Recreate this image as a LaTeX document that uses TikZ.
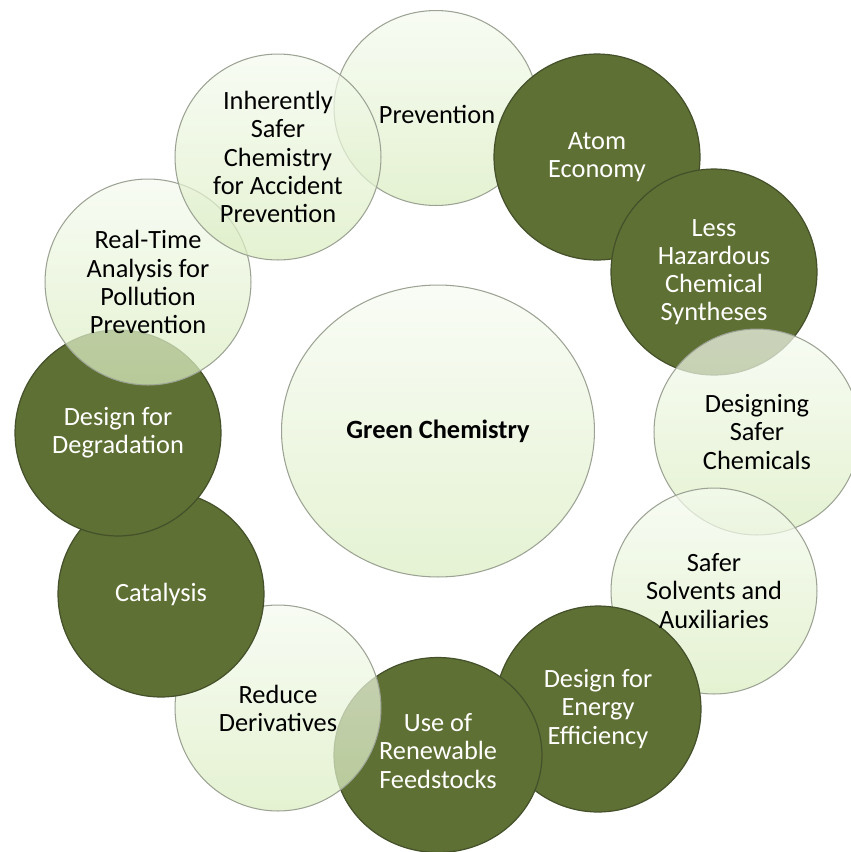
\documentclass[tikz,border=0pt]{standalone}
\usepackage{fontspec}
\setmainfont{Carlito}
\usetikzlibrary{shapes.geometric}
\definecolor{leafdark}{HTML}{5F7034}
\definecolor{leafrim}{HTML}{44512A}
\definecolor{leaftop}{HTML}{F5FAEF}
\definecolor{leafbot}{HTML}{DAEDC0}
\definecolor{leafline}{HTML}{9CA394}
\begin{document}
\begin{tikzpicture}
\newcommand{\xunit}{0.02}
\newcommand{\yunit}{-0.02}
\tikzstyle{bubble}=[circle,minimum size=4.12cm,inner sep=0pt,outer sep=0pt]
\tikzstyle{dark}=[bubble,draw=leafrim,fill=leafdark,line width=0.7pt]
\tikzstyle{light}=[bubble,draw=leafline,top color=leaftop,bottom color=leafbot,fill opacity=0.72,line width=0.6pt]
\tikzstyle{word}=[align=center,font=\fontsize{15pt}{16pt}\selectfont]
\tikzstyle{darkword}=[word,text=white]
\useasboundingbox (0,0) rectangle (\xunit*851,\yunit*852);
% ring of principles, drawn clockwise from the top
\node[light,ellipse,minimum width=4.08cm,minimum height=3.9cm] (1) at (\xunit*436,\yunit*108) {};
\node[dark] (2) at (\xunit*597,\yunit*157) {};
\node[dark] (3) at (\xunit*714,\yunit*272) {};
\node[light] (4) at (\xunit*757,\yunit*432) {};
\node[light] (5) at (\xunit*714,\yunit*591) {};
\node[dark] (6) at (\xunit*598,\yunit*709) {};
\node[dark,ellipse,minimum width=4.16cm,minimum height=3.9cm] (7) at (\xunit*438,\yunit*755) {};
\node[light] (8) at (\xunit*278,\yunit*708) {};
\node[dark] (9) at (\xunit*161,\yunit*594) {};
\node[dark] (10) at (\xunit*118,\yunit*433) {};
\node[light] (11) at (\xunit*148,\yunit*282) {};
\node[light] (12) at (\xunit*278,\yunit*157) {};
\node[light,ellipse,fill opacity=1,top color=leaftop!60!white,bottom color=leafbot!70!white,minimum width=6.26cm,minimum height=5.84cm] (0) at (\xunit*438,\yunit*431) {};
% labels go on top of every circle
\node[word] (t0) at (0) {\textbf{Green Chemistry}};
\node[word] (t1) at (\xunit*437,\yunit*114) {Prevention};
\node[darkword] (t2) at (2) {Atom\\Economy};
\node[darkword] (t3) at (3) {Less\\Hazardous\\Chemical\\Syntheses};
\node[word] (t4) at (4) {Designing\\Safer\\Chemicals};
\node[word] (t5) at (5) {Safer\\Solvents and\\Auxiliaries};
\node[darkword] (t6) at (6) {Design for\\Energy\\Efficiency};
\node[darkword] (t7) at (\xunit*438,\yunit*751) {Use of\\Renewable\\Feedstocks};
\node[word] (t8) at (8) {Reduce\\Derivatives};
\node[darkword] (t9) at (9) {Catalysis};
\node[darkword] (t10) at (10) {Design for\\Degradation};
\node[word] (t11) at (11) {Real-Time\\Analysis for\\Pollution\\Prevention};
\node[word] (t12) at (12) {Inherently\\Safer\\Chemistry\\for Accident\\Prevention};
\end{tikzpicture}
\end{document}
